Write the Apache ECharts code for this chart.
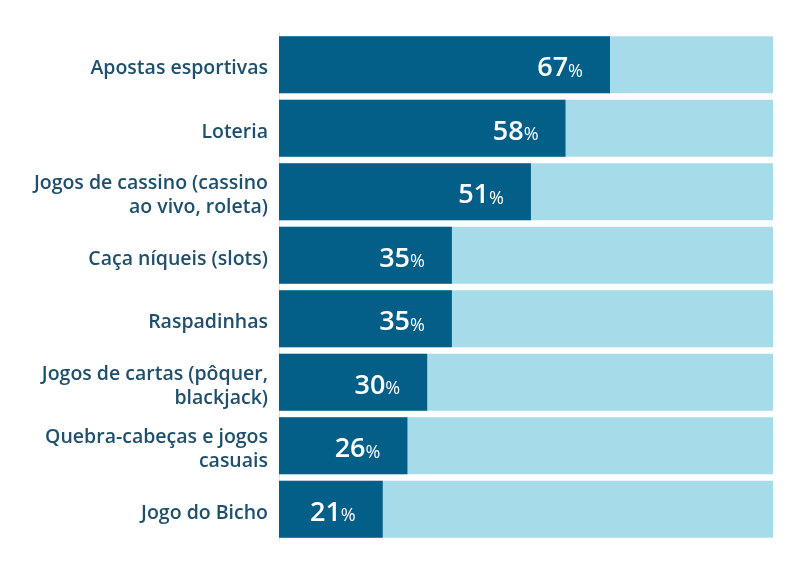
<!DOCTYPE html>
<html>
<head>
<meta charset="utf-8">
<script src="https://cdn.jsdelivr.net/npm/echarts@6/dist/echarts.min.js"></script>
<style>html,body{margin:0;padding:0;background:#fff}#c{width:804px;height:574px}</style>
</head>
<body>
<div id="c"></div>
<script>
var categories = [
  "Apostas esportivas",
  "Loteria",
  "Jogos de cassino (cassino\nao vivo, roleta)",
  "Caça níqueis (slots)",
  "Raspadinhas",
  "Jogos de cartas (pôquer,\nblackjack)",
  "Quebra-cabeças e jogos\ncasuais",
  "Jogo do Bicho"
];
var values = [67, 58, 51, 35, 35, 30, 26, 21];
var maxValue = 100;

var labelFont = {fontFamily: 'Open Sans', fontSize: 19.5, fontWeight: 600, color: '#1e4f6c', lineHeight: 24, align: 'right', padding: [8, 0, 0, 0]};

var chart = echarts.init(document.getElementById('c'), null, {renderer: 'canvas'});
chart.setOption({
  animation: false,
  grid: {left: 279, right: 31, top: 33, bottom: 33},
  xAxis: {type: 'value', min: 0, max: maxValue, show: false},
  yAxis: {
    type: 'category', data: categories, inverse: true,
    axisLine: {show: true, lineStyle: {color: '#dde3e8', width: 1}},
    axisTick: {show: false},
    axisLabel: {
      margin: 11, align: 'right',
      formatter: function (v) {
        return v.split('\n').map(function (s) { return '{a|' + s + '}'; }).join('\n');
      },
      rich: {a: labelFont}
    }
  },
  series: [{
    type: 'bar',
    data: values,
    barCategoryGap: '10%',
    showBackground: true,
    backgroundStyle: {color: '#a6dce9'},
    itemStyle: {color: '#045f88'},
    label: {
      show: true, position: 'insideRight', distance: 27, offset: [0, 4],
      formatter: function (p) { return '{n|' + p.value + '}{p|%}'; },
      rich: {
        n: {fontFamily: 'Open Sans', fontSize: 27, fontWeight: 600, color: '#ffffff'},
        p: {fontFamily: 'Open Sans', fontSize: 18, fontWeight: 500, color: '#ffffff', padding: [6, 0, 0, 0]}
      }
    }
  }]
});
</script>
</body>
</html>
